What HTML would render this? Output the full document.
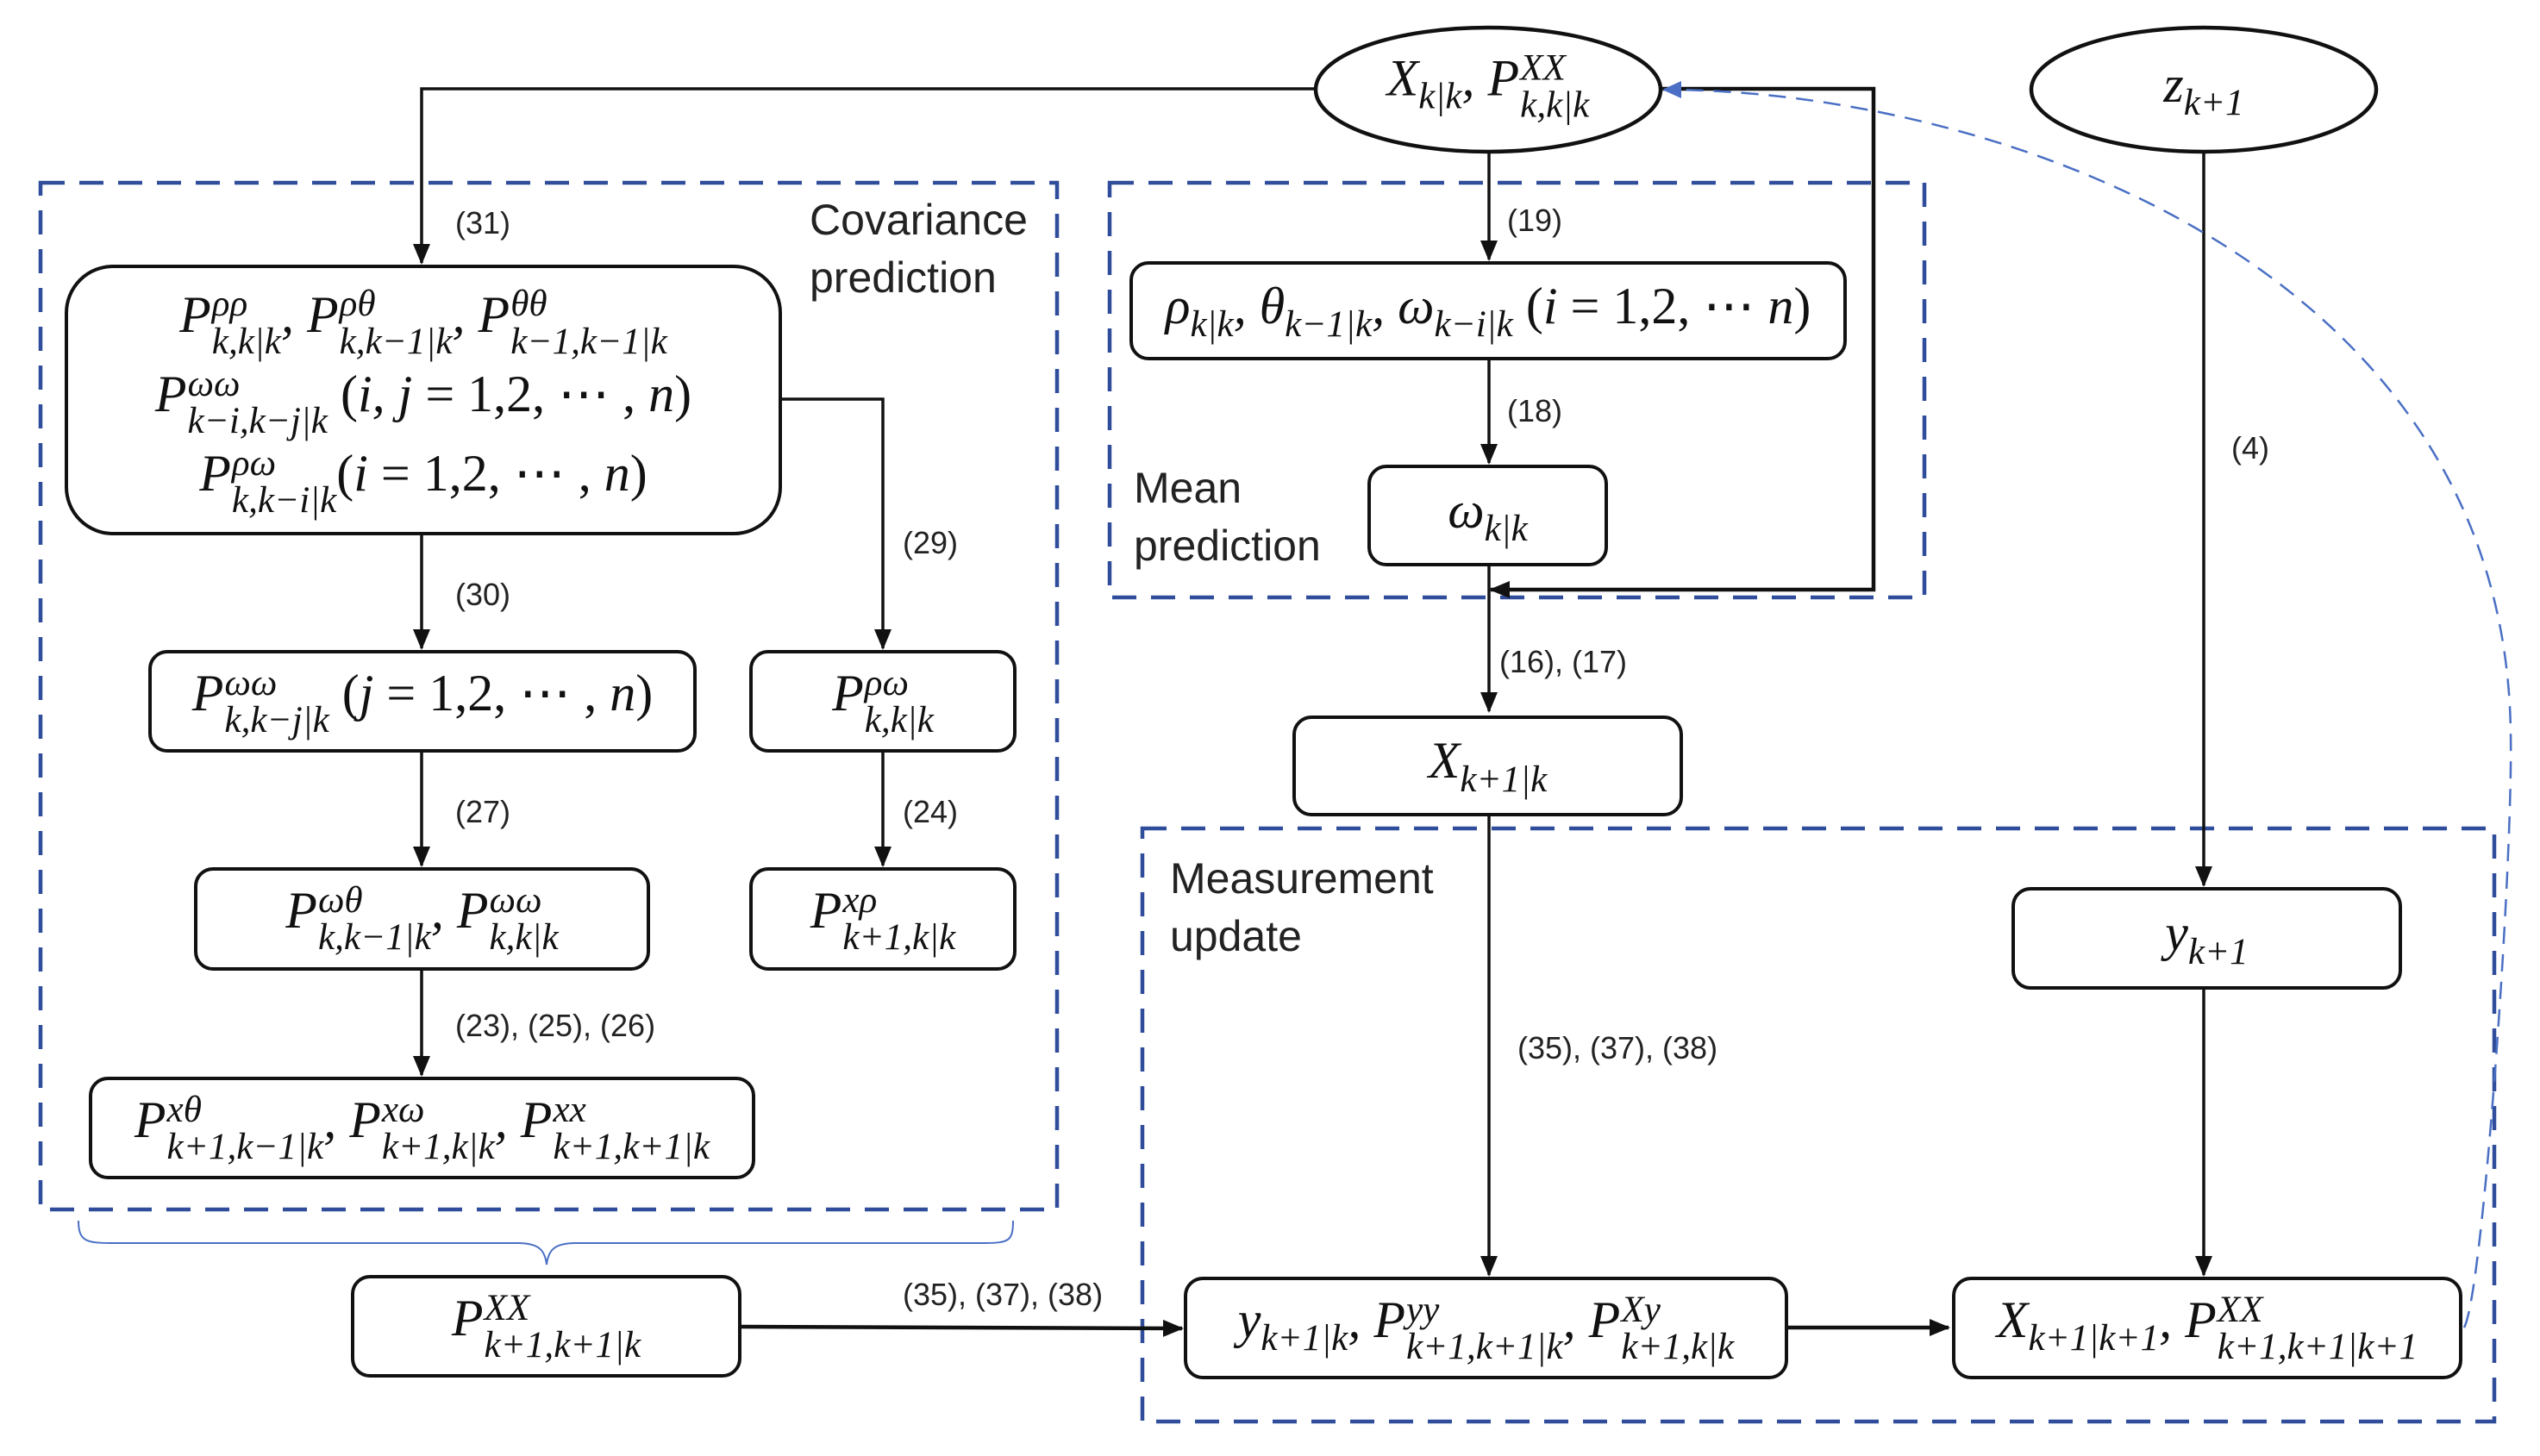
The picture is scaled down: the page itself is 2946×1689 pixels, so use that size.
<!DOCTYPE html>
<html><head><meta charset="utf-8">
<style>
html,body{margin:0;padding:0;background:#fff;}
#c{position:relative;width:2946px;height:1689px;overflow:hidden;background:#fff;}
.b{position:absolute;border:4.5px solid #111;border-radius:22px;box-sizing:border-box;display:flex;align-items:center;justify-content:center;font-family:"Liberation Serif",serif;font-style:italic;font-size:60px;color:#111;white-space:nowrap;}
.b>div{display:block;text-align:center;}
.m{font-family:"Liberation Serif",serif;font-style:italic;color:#111;white-space:nowrap;}
.s{display:inline-flex;flex-direction:column;vertical-align:0.42em;font-size:0.72em;line-height:1.0;text-align:left;margin-left:1px;}
.sd{display:inline-block;font-size:0.72em;vertical-align:-0.35em;}
.n{font-style:normal;}
.l{position:absolute;font-family:"Liberation Sans",sans-serif;font-size:36px;color:#222;transform:translateY(-50%);white-space:nowrap;}
.t{position:absolute;font-family:"Liberation Sans",sans-serif;font-size:50px;color:#222;line-height:67px;white-space:nowrap;}
.ctr{position:absolute;transform:translate(-50%,-50%);font-size:60px;}
</style></head><body><div id="c">
<svg width="2946" height="1689" style="position:absolute;left:0;top:0">
<defs>
<marker id="ab" markerWidth="24" markerHeight="20" refX="22" refY="10" orient="auto" markerUnits="userSpaceOnUse" viewBox="0 0 24 20"><path d="M0,0 L24,10 L0,20z" fill="#111"/></marker>
<marker id="abl" markerWidth="22" markerHeight="20" refX="20" refY="10" orient="auto" markerUnits="userSpaceOnUse" viewBox="0 0 22 20"><path d="M0,0 L22,10 L0,20z" fill="#4a6fc4"/></marker>
</defs>
<g fill="none" stroke="#2f4d9a" stroke-width="4.5" stroke-dasharray="28,17">
<rect x="47" y="212" width="1179" height="1191"/>
<rect x="1287" y="212" width="945" height="481"/>
<rect x="1325" y="961" width="1568" height="688"/>
</g>
<g fill="none" stroke="#111" stroke-width="3.5">
<path d="M1525,103 H489 V305" marker-end="url(#ab)"/>
<path d="M907,463 H1024 V752" marker-end="url(#ab)"/>
<path d="M489,621 V752" marker-end="url(#ab)"/>
<path d="M489,873 V1004" marker-end="url(#ab)"/>
<path d="M1024,873 V1004" marker-end="url(#ab)"/>
<path d="M489,1126 V1247" marker-end="url(#ab)"/>
<path d="M1727,176 V301" marker-end="url(#ab)"/>
<path d="M1727,418 V537" marker-end="url(#ab)"/>
<path d="M1727,657 V825" marker-end="url(#ab)"/>
<path d="M1926,103 H2173 V684 H1729" stroke-width="4.5" marker-end="url(#ab)"/>
<path d="M1727,947 V1479" marker-end="url(#ab)"/>
<path d="M2556,176 V1027" marker-end="url(#ab)"/>
<path d="M2556,1148 V1479" marker-end="url(#ab)"/>
<path d="M860,1539 L1371,1541" stroke-width="4.5" marker-end="url(#ab)"/>
<path d="M2074,1540 H2260" stroke-width="4.5" marker-end="url(#ab)"/>
</g>
<ellipse cx="1726" cy="104" rx="200" ry="72" fill="#fff" stroke="#111" stroke-width="4.5"/>
<ellipse cx="2556" cy="104" rx="200" ry="72" fill="#fff" stroke="#111" stroke-width="4.5"/>
<path d="M2858,1540 C2880,1500 2915,1000 2912,850 C2905,300 2300,104 1930,104" fill="none" stroke="#4a6fc4" stroke-width="2.5" stroke-dasharray="20,12" marker-end="url(#abl)"/>
<path d="M91,1416 C91,1440 100,1442 130,1442 L600,1442 C625,1442 632,1450 634,1467 C636,1450 643,1442 668,1442 L1140,1442 C1170,1442 1175,1440 1175,1416" fill="none" stroke="#4a6fc4" stroke-width="2"/>
</svg>

<div class="m ctr" style="left:1726px;top:100px">X<span class="sd">k|k</span>, P<span class="s"><span>XX</span><span>k,k|k</span></span></div>
<div class="m ctr" style="left:2556px;top:104px">z<span class="sd">k+1</span></div>

<div class="b" style="left:75px;top:307px;width:832px;height:314px;border-radius:56px;line-height:78px"><div>
<div>P<span class="s"><span>ρρ</span><span>k,k|k</span></span>, P<span class="s"><span>ρθ</span><span>k,k−1|k</span></span>, P<span class="s"><span>θθ</span><span>k−1,k−1|k</span></span></div>
<div>P<span class="s"><span>ωω</span><span>k−i,k−j|k</span></span> <span class="n">(</span>i, j <span class="n">= 1,2, ⋯ ,</span> n<span class="n">)</span></div>
<div>P<span class="s"><span>ρω</span><span>k,k−i|k</span></span><span class="n">(</span>i <span class="n">= 1,2, ⋯ ,</span> n<span class="n">)</span></div>
</div></div>
<div class="b" style="left:172px;top:754px;width:636px;height:119px"><div>P<span class="s"><span>ωω</span><span>k,k−j|k</span></span> <span class="n">(</span>j <span class="n">= 1,2, ⋯ ,</span> n<span class="n">)</span></div></div>
<div class="b" style="left:869px;top:754px;width:310px;height:119px"><div>P<span class="s"><span>ρω</span><span>k,k|k</span></span></div></div>
<div class="b" style="left:225px;top:1006px;width:529px;height:120px"><div>P<span class="s"><span>ωθ</span><span>k,k−1|k</span></span>, P<span class="s"><span>ωω</span><span>k,k|k</span></span></div></div>
<div class="b" style="left:869px;top:1006px;width:310px;height:120px"><div>P<span class="s"><span>xρ</span><span>k+1,k|k</span></span></div></div>
<div class="b" style="left:103px;top:1249px;width:773px;height:119px"><div>P<span class="s"><span>xθ</span><span>k+1,k−1|k</span></span>, P<span class="s"><span>xω</span><span>k+1,k|k</span></span>, P<span class="s"><span>xx</span><span>k+1,k+1|k</span></span></div></div>
<div class="b" style="left:407px;top:1479px;width:453px;height:119px"><div>P<span class="s"><span>XX</span><span>k+1,k+1|k</span></span></div></div>

<div class="b" style="left:1310px;top:303px;width:832px;height:115px"><div>ρ<span class="sd">k|k</span>, θ<span class="sd">k−1|k</span>, ω<span class="sd">k−i|k</span> <span class="n">(</span>i <span class="n">= 1,2, ⋯</span> n<span class="n">)</span></div></div>
<div class="b" style="left:1586px;top:539px;width:279px;height:118px"><div>ω<span class="sd">k|k</span></div></div>
<div class="b" style="left:1499px;top:830px;width:453px;height:117px"><div>X<span class="sd">k+1|k</span></div></div>
<div class="b" style="left:2333px;top:1029px;width:453px;height:119px"><div>y<span class="sd">k+1</span></div></div>
<div class="b" style="left:1373px;top:1481px;width:701px;height:119px"><div>y<span class="sd">k+1|k</span>, P<span class="s"><span>yy</span><span>k+1,k+1|k</span></span>, P<span class="s"><span>Xy</span><span>k+1,k|k</span></span></div></div>
<div class="b" style="left:2264px;top:1481px;width:592px;height:119px"><div>X<span class="sd">k+1|k+1</span>, P<span class="s"><span>XX</span><span>k+1,k+1|k+1</span></span></div></div>

<div class="l" style="left:528px;top:259px">(31)</div>
<div class="l" style="left:1047px;top:630px">(29)</div>
<div class="l" style="left:528px;top:690px">(30)</div>
<div class="l" style="left:528px;top:942px">(27)</div>
<div class="l" style="left:1047px;top:942px">(24)</div>
<div class="l" style="left:528px;top:1190px">(23), (25), (26)</div>
<div class="l" style="left:1047px;top:1502px">(35), (37), (38)</div>
<div class="l" style="left:1748px;top:256px">(19)</div>
<div class="l" style="left:1748px;top:477px">(18)</div>
<div class="l" style="left:1739px;top:768px">(16), (17)</div>
<div class="l" style="left:2588px;top:520px">(4)</div>
<div class="l" style="left:1760px;top:1216px">(35), (37), (38)</div>

<div class="t" style="left:939px;top:222px">Covariance<br>prediction</div>
<div class="t" style="left:1315px;top:533px">Mean<br>prediction</div>
<div class="t" style="left:1357px;top:986px">Measurement<br>update</div>
</div></body></html>
